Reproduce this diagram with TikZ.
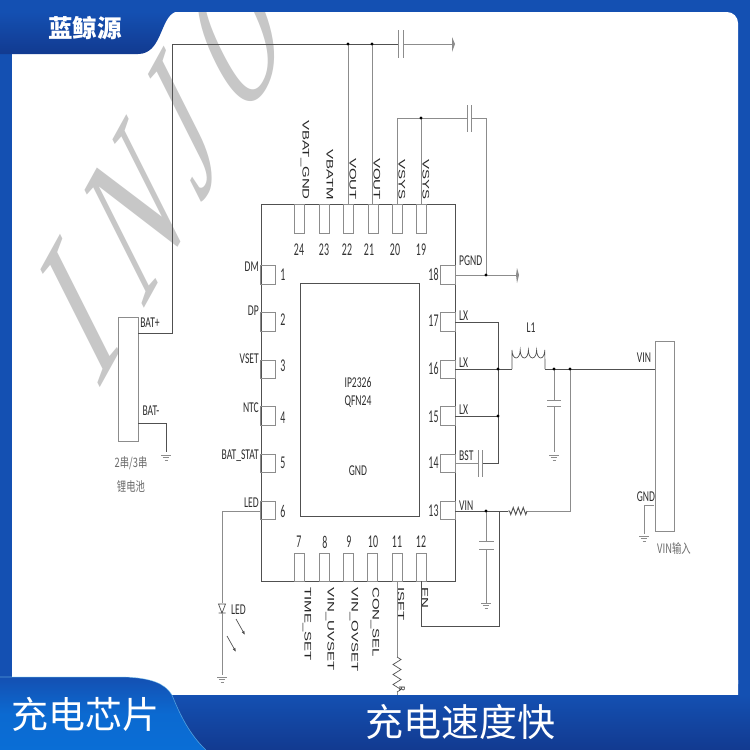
\documentclass[tikz,border=0pt]{standalone}
\usepackage{fontspec}
\usepackage{graphicx}
\setmainfont{Carlito}
\newfontfamily\wide{Liberation Sans}
\newfontfamily\cjk{Noto Sans CJK SC}
\newfontfamily\wm{Liberation Serif}
\usetikzlibrary{decorations.pathmorphing,arrows.meta}
\definecolor{wire}{HTML}{8C8C8C}
\definecolor{wiredk}{HTML}{505050}
\definecolor{band}{HTML}{1450B2}
\definecolor{banddk}{HTML}{123A90}
\definecolor{tabmid}{HTML}{0A6ED6}
\newcommand{\nrw}[1]{\scalebox{.64}[1]{#1}}
\newcommand{\nmb}[1]{\scalebox{.55}[1]{#1}}
\newcommand{\wdr}[1]{\scalebox{1.58}[1]{#1}}
\newcommand{\cnr}[1]{\scalebox{.72}[1]{#1}}
\tikzset{
  w/.style={draw=wire,line width=.9pt},
  wd/.style={draw=wiredk,line width=.9pt},
  pinbox/.style={draw=wire,line width=.8pt},
  lab/.style={font=\fontsize{15}{15}\selectfont,text=black!82,inner sep=0pt},
  rot/.style={font=\wide\fontsize{9.5}{10}\selectfont,text=black!85,inner sep=0pt,rotate=-90},
  num/.style={font=\fontsize{18}{18}\selectfont,text=black!80,inner sep=0pt},
  dot/.style={circle,fill=black,inner sep=0pt,minimum size=3.2pt},
  cn/.style={font=\cjk\fontsize{13}{13}\selectfont,text=black!58,inner sep=0pt},
  head/.style={font=\cjk\fontsize{37}{37}\selectfont,text=white,inner sep=0pt},
}
\newcommand{\gndsym}[2]{%
  \draw[wire,line width=.7pt] (#1-5,#2) -- (#1+5,#2) (#1-3.2,#2+2.5) -- (#1+3.2,#2+2.5) (#1-1.5,#2+5) -- (#1+1.5,#2+5);}
\begin{document}
\begin{tikzpicture}[x=1pt,y=-1pt]
\useasboundingbox (0,0) rectangle (750,750);
% frame
\fill[band] (0,0) rectangle (750,750);
\fill[white,rounded corners=11pt] (12,12) -- (738,12) -- (738,695) -- (12,695) -- cycle;
\fill[white] (12,12) rectangle (200,60) (700,680) rectangle (738,695) (12,680) rectangle (60,695);
% watermark
\begin{scope}
\clip (12,12) rectangle (738,695);
\begin{scope}[cm={.624,1.13,-.906,1.80,(97.5,392.6)}]
\node[transform shape,anchor=base west,inner sep=0pt,text=black!22,
  font=\wm\fontsize{100}{100}\selectfont] (wmark) at (0,0) {\scalebox{1.2}[1]{I}\kern32pt N\kern21.5pt J\kern30pt O};
\end{scope}
\end{scope}
% bottom band and tabs
\shade[top color=band,bottom color=banddk] (0,695) rectangle (750,750);
\shade[top color=band,bottom color=banddk] (0,12) -- (175,12) .. controls (160,18) and (162,54) .. (138,54) -- (0,54) -- cycle;
\fill[band] (0,0) rectangle (175,12);
\shade[top color=band,bottom color=tabmid,middle color=tabmid!85!band,shading angle=0]
  (0,677) -- (125,677) .. controls (150,678) and (165,683) .. (172,695) .. controls (180,715) and (190,735) .. (206,750) -- (0,750) -- cycle;
\draw[white!55!cyan,line width=.6pt,opacity=.55] (0,677) -- (125,677) .. controls (150,678) and (165,683) .. (172,695) .. controls (180,715) and (190,735) .. (206,750);
\node[head] (brand) at (86,714.5) {充电芯片};
\node[head,font=\cjk\fontsize{38}{38}\selectfont] (slogan) at (460,722) {充电速度快};
\node[head,font=\cjk\bfseries\fontsize{24.5}{24.5}\selectfont] (logo) at (85,28) {蓝鲸源};
% chip
\node[pinbox,draw=wiredk,line width=1pt,minimum width=194pt,minimum height=377pt,inner sep=0pt] (chip) at (358,392.5) {};
\node[pinbox,draw=wiredk,minimum width=119pt,minimum height=233pt,inner sep=0pt] (core) at (359.5,399.5) {};
\node[lab,align=center] (part1) at (358,382) {\nrw{IP2326}};
\node[lab,align=center] (part2) at (358,402) {\nrw{QFN24}};
\node[lab] (coregnd) at (358,471) {\nrw{GND}};
% top pins
\foreach \n/\x/\nx/\lx/\t in {24/299.5/299/305/VBAT\_GND,23/324/324/330/VBATM,22/348/347/353/VOUT,21/373/369/377/VOUT,20/397/395/402/VSYS,19/421/421/426/VSYS}{
  \node[pinbox,minimum width=10pt,minimum height=29pt,inner sep=0pt] (p\n) at (\x,218.5) {};
  \node[num] (n\n) at (\nx,250) {\nmb{\n}};
  \node[rot,anchor=east] (l\n) at (\lx,200) {\wdr{\t}};
}
% left pins
\foreach \n/\y/\ny/\ly/\t in {1/275/275/267/DM,2/322/320/311/DP,3/369.5/366/359/VSET,4/416/418/408/NTC,5/463.5/463/456/BAT\_STAT,6/510.5/511/503/LED}{
  \node[pinbox,minimum width=15pt,minimum height=18.5pt,inner sep=0pt] (p\n) at (268,\y) {};
  \node[num] (n\n) at (283,\ny) {\nmb{\n}};
  \node[lab,anchor=east] (l\n) at (259,\ly) {\nrw{\t}};
}
% right pins
\foreach \n/\y/\ny/\ly/\t in {18/275/274/261/PGND,17/322/321/316/LX,16/369.5/368/363/LX,15/416/417/410/LX,14/463.5/463/456/BST,13/510.5/511/506/VIN}{
  \node[pinbox,minimum width=15pt,minimum height=18.5pt,inner sep=0pt] (p\n) at (447.5,\y) {};
  \node[num] (n\n) at (433.5,\ny) {\nmb{\n}};
  \node[lab,anchor=west] (l\n) at (459,\ly) {\nrw{\t}};
}
% bottom pins
\foreach \n/\x/\nx/\lx/\t in {7/299/299/307/TIME\_SET,8/324/325/330/VIN\_UVSET,9/348/349/354/VIN\_OVSET,10/372/373/375/CON\_SEL,11/397/397/401/ISET,12/421/421/425/EN}{
  \node[pinbox,minimum width=10pt,minimum height=28pt,inner sep=0pt] (p\n) at (\x,567) {};
  \node[num] (n\n) at (\nx,542) {\nmb{\n}};
  \node[rot,anchor=west] (l\n) at (\lx,587) {\wdr{\t}};
}
% battery
\node[pinbox,draw=wire,fill=white,line width=1pt,minimum width=20pt,minimum height=124pt,inner sep=0pt] (batt) at (128,379) {};
\node[lab] (batp) at (150,323) {\nrw{BAT+}};
\node[lab] (batn) at (151,411) {\nrw{BAT-}};
\node[cn] (bat1) at (131,463) {\cnr{2串/3串}};
\node[cn] (bat2) at (131,487) {\cnr{锂电池}};
% VIN connector
\node[pinbox,line width=1pt,minimum width=19pt,minimum height=190pt,inner sep=0pt] (conn) at (664.5,436) {};
\node[lab] (vinlab) at (644,358) {\nrw{VIN}};
\node[lab] (gndlab) at (646,497) {\nrw{GND}};
\node[cn] (vinin) at (674,549) {\cnr{VIN输入}};
% coordinates
\coordinate (batA) at (138,333);
\coordinate (vbus) at (172,44);
\coordinate (d22) at (348,44);
\coordinate (d21) at (372,44);
\coordinate (c1a) at (398,44);
\coordinate (c1b) at (403,44);
\coordinate (tipA) at (452,44);
\coordinate (d19) at (421,118);
\coordinate (c2a) at (467,118);
\coordinate (c2b) at (471,118);
\coordinate (dpg) at (486,275);
\coordinate (tipB) at (517,275);
\coordinate (dlx) at (498,369);
\coordinate (dlx2) at (498,416);
\coordinate (indA) at (512,369);
\coordinate (indB) at (545,369);
\coordinate (d554) at (554,369);
\coordinate (d570) at (570,369);
\coordinate (d486) at (486,511);
% main wires
\draw[wd] (batA) -| (vbus) -- (c1a);
\draw[w] (c1b) -- (tipA);
\draw[w] (d22) -- (348,204);
\draw[w] (d21) -- (372,204);
\draw[w,line width=.8pt] (398,30) -- (398,58) (403,30) -- (403,58);
\fill[wire] (tipA) -- (452,37) -- (455,44) -- (452,52) -- cycle;
\draw[w] (397,204) |- (c2a);
\draw[w] (d19) -- (421,204);
\draw[w,line width=.8pt] (467,105) -- (467,132) (471,105) -- (471,132);
\draw[w] (c2b) -| (dpg);
\draw[w] (455,275) -- (tipB);
\fill[wire] (517,268) -- (519,275) -- (517,283) -- (516,275) -- cycle;
\draw[wd] (455,322) -| (dlx2) (498,416) -- (498,463) -- (482,463);
\draw[wd] (455,369) -- (indA);
\draw[wd] (455,416) -- (dlx2);
\draw[w] (455,463) -- (478,463);
\draw[w,line width=.8pt] (478,450) -- (478,477) (482,450) -- (482,477);
% inductor
\draw[wd,line width=.7pt] (indA) -- (512,350)
  arc[start angle=180,end angle=0,x radius=4.1,y radius=8]
  arc[start angle=180,end angle=0,x radius=4.1,y radius=8]
  arc[start angle=180,end angle=0,x radius=4.1,y radius=8]
  arc[start angle=180,end angle=0,x radius=4.1,y radius=8] -- (indB);
\node[lab] (l1) at (531,328) {\nrw{L1}};
\draw[wd] (indB) -- (655,369);
\draw[w] (d554) -- (554,400) (554,406) -- (554,452);
\draw[w,line width=1pt] (547,400) -- (561,400) (547,406) -- (561,406);
\gndsym{554}{455}
\draw[w] (d570) |- (527,511);
\draw[wd,decorate,decoration={zigzag,segment length=5pt,amplitude=3.5pt}] (527,511) -- (508,511);
\draw[wd] (508,511) -- (455,511);
\draw[w] (d486) -- (486,541) (486,549) -- (486,603);
\draw[w,line width=1pt] (479,541) -- (494,541) (479,549) -- (494,549);
\gndsym{486}{603}
\draw[wd] (499,511) -- (499,626) -- (421,626) -- (421,581);
% VIN ground
\draw[w] (654,505) -- (644,505) -- (644,534);
\gndsym{644}{536}
% battery ground
\draw[wd,line width=.7pt] (138,423) -| (166,452);
\gndsym{166}{455}
% LED
\draw[w] (261,511) -| (222,603);
\draw[wd,line width=.7pt] (218.5,604) -- (225.5,604) -- (222,613) -- cycle (218.5,613) -- (225.5,613);
\draw[w] (222,613) -- (222,675);
\gndsym{222}{677}
\node[lab] (ledlab) at (238.5,610) {\nrw{LED}};
\draw[line width=.7pt,-{Latex[length=4pt,width=3pt]},draw=wiredk] (236,619) -- (245,635);
\draw[line width=.7pt,-{Latex[length=4pt,width=3pt]},draw=wiredk] (227,636) -- (236,652);
% ISET resistor
\draw[w] (397,581) -- (397,657);
\begin{scope}
\clip (380,650) rectangle (420,695);
\draw[wd,line width=.7pt,decorate,decoration={zigzag,segment length=10pt,amplitude=4pt}] (397,657) -- (397,692);
\draw[w] (397,692) -- (397,695);
\node[lab,font=\fontsize{9}{9}\selectfont,rotate=-90] (rlab) at (402,689) {R};
\end{scope}
% dots
\foreach \c in {d22,d21,d19,dpg,dlx,dlx2,d554,d570,d486}{\node[dot] at (\c) {};}
\end{tikzpicture}
\end{document}
